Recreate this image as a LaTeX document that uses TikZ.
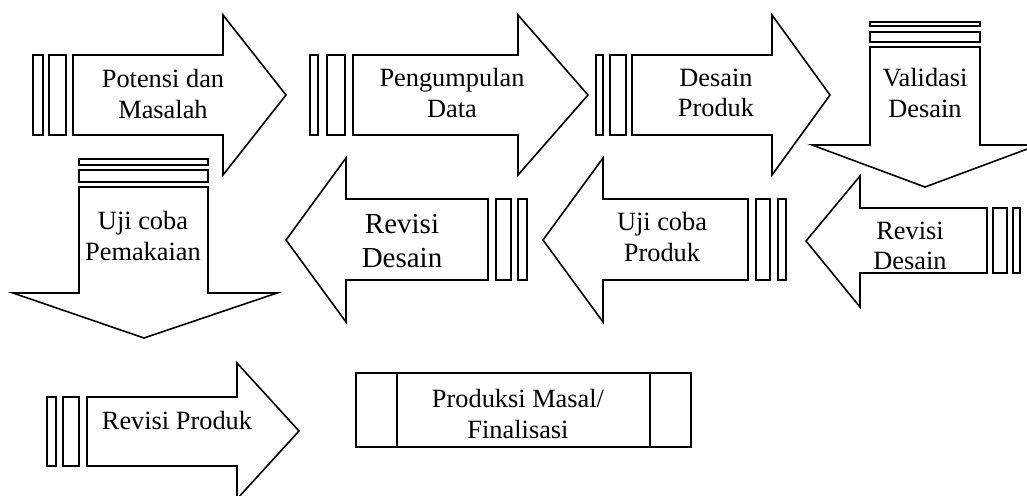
\documentclass[tikz,border=0pt]{standalone}
\usepackage{fontspec}
\setmainfont{Liberation Serif}

\begin{document}
\begin{tikzpicture}[x=0.02cm, y=-0.02cm, line width=0.9pt,
    lbl/.style={align=center, inner sep=0pt, font=\fontsize{15}{17.5}\selectfont},
    biglbl/.style={lbl, font=\fontsize{16.5}{19}\selectfont}]
    \useasboundingbox (0,0) rectangle (1027,495);

    \draw (33,55) rectangle (43,135);
    \draw (49,55) rectangle (66,135);
    \draw (73,55) -- (223,55) -- (223,15) -- (286,95) -- (223,175) -- (223,135) -- (73,135) -- cycle;
    \node[lbl] (potensi) at (163,94) {Potensi dan\\Masalah};

    \draw (310,55) rectangle (318,135);
    \draw (327,55) rectangle (345,135);
    \draw (353,55) -- (518,55) -- (518,15) -- (588,95) -- (518,175) -- (518,135) -- (353,135) -- cycle;
    \node[lbl] (pengumpulan) at (452,93) {Pengumpulan\\Data};

    \draw (596,55) rectangle (603,135);
    \draw (610,55) rectangle (626,135);
    \draw (632,55) -- (772,55) -- (772,15) -- (830,95) -- (772,175) -- (772,135) -- (632,135) -- cycle;
    \node[lbl] (desain) at (716,93) {Desain\\Produk};

    \draw (870,22) rectangle (980,26);
    \draw (870,32) rectangle (980,42);
    \draw (870,47) -- (980,47) -- (980,145) -- (1038,145) -- (925,187) -- (812,145) -- (870,145) -- cycle;
    \node[lbl] (validasi) at (925,93) {Validasi\\Desain};

    \draw (79,159) rectangle (208,165);
    \draw (79,170) rectangle (208,182);
    \draw (79,187) -- (208,187) -- (208,293) -- (277,293) -- (144,338) -- (13,293) -- (79,293) -- cycle;
    \node[lbl] (pemakaian) at (143,236) {Uji coba\\Pemakaian};

    \draw (496,199) rectangle (511,280);
    \draw (518,199) rectangle (527,280);
    \draw (488,199) -- (346,199) -- (346,158) -- (286,240) -- (346,322) -- (346,280) -- (488,280) -- cycle;
    \node[biglbl] (revisidesain) at (402,241) {Revisi\\Desain};

    \draw (756,199) rectangle (770,280);
    \draw (778,199) rectangle (786,280);
    \draw (748,199) -- (603,199) -- (603,158) -- (543,240) -- (603,322) -- (603,280) -- (748,280) -- cycle;
    \node[lbl] (ujiproduk) at (662,237) {Uji coba\\Produk};

    \draw (993,208) rectangle (1007,273);
    \draw (1013,208) rectangle (1020,273);
    \draw (987,208) -- (860,208) -- (860,176) -- (806,241) -- (860,307) -- (860,273) -- (987,273) -- cycle;
    \node[lbl] (revisikecil) at (910,246) {Revisi\\Desain};

    \draw (47,397) rectangle (56,466);
    \draw (63,397) rectangle (79,466);
    \draw (87,397) -- (237,397) -- (237,363) -- (299,431) -- (237,499) -- (237,466) -- (87,466) -- cycle;
    \node[lbl] (revisiproduk) at (177,420) {Revisi Produk};

    \draw (356,373) rectangle (691,447);
    \draw (397,373) -- (397,447);
    \draw (650,373) -- (650,447);
    \node[lbl] (produksi) at (518,414) {Produksi Masal/\\Finalisasi};
\end{tikzpicture}
\end{document}
